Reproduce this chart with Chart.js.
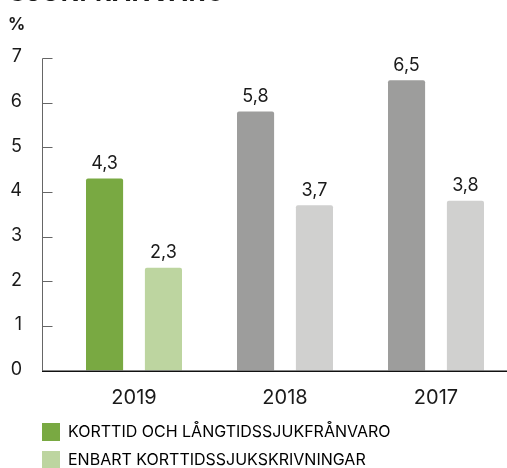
<!DOCTYPE html>
<html>
<head>
<meta charset="utf-8">
<script src="https://cdn.jsdelivr.net/npm/chart.js@4"></script>
<style>
html, body { margin: 0; padding: 0; background: #fff; overflow: hidden; width: 507px; height: 468px; }
#wrap { position: relative; width: 520px; height: 479px; }
#title { position: absolute; left: 9px; top: -23px; font: bold 25px Inter, sans-serif; color: #1a1a1a; letter-spacing: 0.8px; }
#unit { position: absolute; left: 8px; top: 14px; font: bold 17px Inter, sans-serif; color: #1a1a1a; }
</style>
</head>
<body>
<div id="wrap">
  <div id="title">SJUKFRÅNVARO</div>
  <div id="unit">%</div>
  <canvas id="bar" width="520" height="479"></canvas>
</div>
<script>
const years = ['2019', '2018', '2017'];
const totalSick = [4.3, 5.8, 6.5];   // korttid och långtid
const shortOnly = [2.3, 3.7, 3.8];   // enbart korttid
const seriesNames = ['KORTTID OCH LÅNGTIDSSJUKFRÅNVARO', 'ENBART KORTTIDSSJUKSKRIVNINGAR'];
const yTicks = [0, 1, 2, 3, 4, 5, 6, 7];

const darkColors = ['#79a942', '#9d9d9c', '#9d9d9c'];
const lightColors = ['#bdd5a0', '#d0d0cf', '#d0d0cf'];
const legendColors = ['#79a942', '#bdd5a0'];

// y axis: line left of the plot, small ticks pointing in, labels far left
const axisPlugin = {
  id: 'axisLines',
  afterDatasetsDraw(chart) {
    const ctx = chart.ctx;
    const y = chart.scales.y;
    const ax = 42.5;
    ctx.save();
    ctx.strokeStyle = '#666';
    ctx.lineWidth = 1;
    ctx.beginPath();
    ctx.moveTo(ax, Math.round(y.getPixelForValue(7)) + 0.5);
    ctx.lineTo(ax, y.getPixelForValue(0));
    yTicks.forEach(v => {
      if (v === 0) return;
      const py = Math.round(y.getPixelForValue(v)) + 0.5;
      ctx.moveTo(ax, py);
      ctx.lineTo(ax + 10, py);
    });
    ctx.stroke();
    ctx.strokeStyle = '#111';
    ctx.lineWidth = 1.6;
    ctx.beginPath();
    const by = y.getPixelForValue(0) + 0.8;
    ctx.moveTo(ax - 0.5, by);
    ctx.lineTo(chart.width, by);
    ctx.stroke();

    ctx.font = '18px Inter, sans-serif';
    ctx.fillStyle = '#1a1a1a';
    ctx.textAlign = 'right';
    ctx.textBaseline = 'middle';
    yTicks.forEach(v => {
      ctx.fillText(String(v), 22, y.getPixelForValue(v) - 1);
    });
    ctx.restore();
  }
};

// value labels over bars, with decimal comma
const valuePlugin = {
  id: 'values',
  afterDatasetsDraw(chart) {
    const ctx = chart.ctx;
    ctx.save();
    ctx.font = '18px Inter, sans-serif';
    ctx.fillStyle = '#1a1a1a';
    ctx.textAlign = 'center';
    ctx.textBaseline = 'middle';
    chart.data.datasets.forEach((ds, i) => {
      chart.getDatasetMeta(i).data.forEach((bar, j) => {
        ctx.fillText(ds.data[j].toFixed(1).replace('.', ','), bar.x, bar.y - 15);
      });
    });
    ctx.restore();
  }
};

new Chart(document.getElementById('bar'), {
  type: 'bar',
  data: {
    labels: years,
    datasets: [{
      label: seriesNames[0],
      data: totalSick,
      backgroundColor: darkColors,
      borderRadius: 2,
      borderSkipped: 'bottom',
      categoryPercentage: 0.78,
      barPercentage: 0.63
    }, {
      label: seriesNames[1],
      data: shortOnly,
      backgroundColor: lightColors,
      borderRadius: 2,
      borderSkipped: 'bottom',
      categoryPercentage: 0.78,
      barPercentage: 0.63
    }]
  },
  options: {
    responsive: false,
    animation: false,
    layout: { padding: { top: 58, left: 32, right: 8.5, bottom: 0 } },
    plugins: {
      tooltip: { enabled: false },
      legend: {
        position: 'bottom',
        align: 'start',
        labels: {
          boxWidth: 18,
          boxHeight: 18,
          padding: 10,
          color: '#1a1a1a',
          font: { family: 'Inter, sans-serif', size: 16 },
          generateLabels: chart => chart.data.datasets.map((ds, i) => ({
            text: ds.label,
            fillStyle: legendColors[i],
            strokeStyle: legendColors[i],
            lineWidth: 0,
            datasetIndex: i
          }))
        }
      }
    },
    scales: {
      x: {
        grid: { display: true, drawOnChartArea: false, drawTicks: true, tickLength: 12.5, tickColor: 'rgba(0,0,0,0)' },
        border: { display: false },
        ticks: {
          color: '#1a1a1a',
          padding: 3,
          font: { family: 'Inter, sans-serif', size: 20, lineHeight: 1.2 }
        }
      },
      y: {
        min: 0,
        max: 7,
        afterFit: s => { s.width = 26.5; },
        afterBuildTicks: s => { s.ticks = yTicks.map(v => ({ value: v })); },
        grid: { display: false, drawTicks: false },
        border: { display: false },
        ticks: { display: false }
      }
    }
  },
  plugins: [axisPlugin, valuePlugin]
});
</script>
</body>
</html>
